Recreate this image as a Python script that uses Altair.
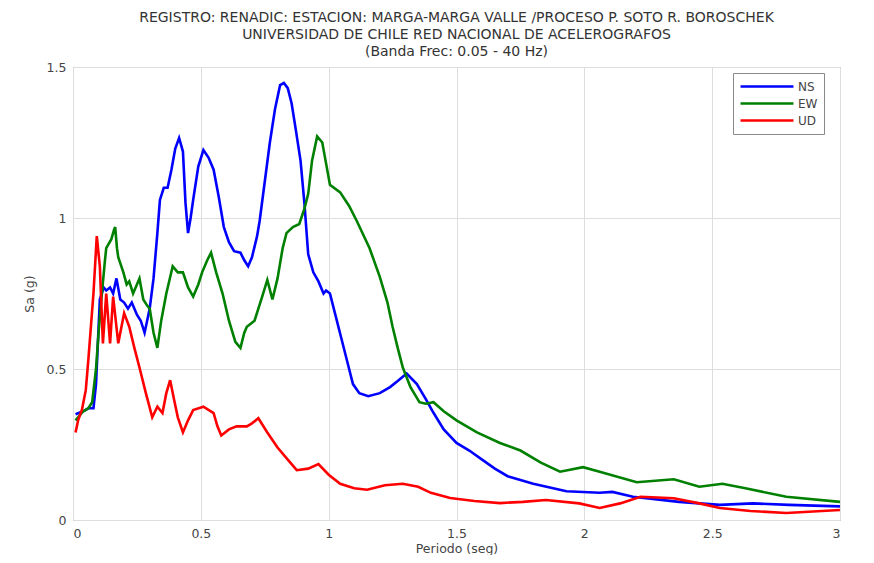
import altair as alt
import pandas as pd

# ---- data ----
ns_x = [0.01,0.04,0.06,0.08,0.09,0.105,0.12,0.13,0.145,0.157,0.17,0.185,0.2,0.215,0.23,0.25,0.265,0.28,0.29,0.30,0.315,0.33,0.34,0.355,0.37,0.385,0.40,0.415,0.43,0.44,0.45,0.46,0.47,0.49,0.51,0.53,0.55,0.57,0.59,0.61,0.63,0.655,0.67,0.685,0.70,0.72,0.73,0.75,0.77,0.79,0.81,0.825,0.84,0.855,0.87,0.89,0.905,0.92,0.94,0.96,0.98,0.99,1.005,1.02,1.05,1.08,1.095,1.12,1.155,1.20,1.24,1.27,1.305,1.345,1.38,1.41,1.45,1.50,1.55,1.60,1.65,1.70,1.80,1.93,2.06,2.11,2.19,2.37,2.53,2.66,2.8,3.0]
ns_y = [0.35,0.36,0.37,0.37,0.45,0.73,0.77,0.76,0.77,0.75,0.80,0.73,0.72,0.70,0.72,0.68,0.66,0.62,0.66,0.70,0.80,0.95,1.06,1.10,1.10,1.16,1.23,1.265,1.22,1.05,0.95,1.0,1.06,1.17,1.225,1.20,1.16,1.07,0.97,0.92,0.89,0.885,0.86,0.84,0.87,0.94,0.99,1.12,1.25,1.36,1.44,1.447,1.43,1.38,1.30,1.19,1.05,0.88,0.82,0.79,0.75,0.76,0.75,0.70,0.60,0.50,0.45,0.42,0.41,0.42,0.44,0.46,0.485,0.45,0.40,0.355,0.30,0.255,0.23,0.20,0.17,0.145,0.12,0.095,0.09,0.093,0.077,0.06,0.05,0.055,0.05,0.045]

ew_x = [0.01,0.04,0.06,0.075,0.09,0.10,0.113,0.125,0.13,0.15,0.16,0.165,0.172,0.177,0.197,0.21,0.22,0.235,0.25,0.26,0.275,0.29,0.30,0.315,0.33,0.345,0.365,0.39,0.41,0.43,0.45,0.47,0.49,0.505,0.525,0.54,0.56,0.585,0.61,0.635,0.655,0.67,0.68,0.71,0.74,0.76,0.78,0.80,0.82,0.835,0.86,0.885,0.905,0.92,0.935,0.955,0.975,0.99,1.005,1.045,1.08,1.11,1.16,1.20,1.23,1.25,1.27,1.29,1.32,1.355,1.38,1.41,1.45,1.50,1.58,1.67,1.75,1.83,1.905,1.995,2.06,2.205,2.35,2.45,2.54,2.63,2.79,3.0]
ew_y = [0.33,0.36,0.37,0.39,0.50,0.62,0.75,0.86,0.90,0.93,0.96,0.97,0.90,0.87,0.82,0.78,0.79,0.75,0.78,0.80,0.73,0.71,0.70,0.62,0.57,0.66,0.75,0.84,0.82,0.82,0.77,0.74,0.78,0.82,0.86,0.885,0.82,0.75,0.66,0.59,0.57,0.62,0.64,0.66,0.74,0.795,0.73,0.80,0.90,0.95,0.97,0.98,1.03,1.08,1.19,1.27,1.25,1.18,1.11,1.085,1.04,0.99,0.90,0.805,0.72,0.64,0.57,0.505,0.44,0.39,0.385,0.39,0.36,0.33,0.29,0.255,0.23,0.19,0.16,0.175,0.16,0.125,0.135,0.11,0.12,0.105,0.077,0.06]

ud_x = [0.01,0.02,0.035,0.05,0.06,0.08,0.093,0.105,0.117,0.13,0.145,0.157,0.177,0.20,0.22,0.24,0.26,0.285,0.31,0.33,0.35,0.365,0.38,0.395,0.41,0.43,0.45,0.47,0.51,0.55,0.565,0.58,0.61,0.64,0.68,0.70,0.725,0.76,0.80,0.84,0.875,0.92,0.96,1.0,1.045,1.10,1.15,1.22,1.29,1.35,1.40,1.475,1.57,1.67,1.76,1.85,1.98,2.06,2.14,2.22,2.35,2.45,2.53,2.65,2.79,3.0]
ud_y = [0.29,0.33,0.365,0.43,0.53,0.75,0.94,0.84,0.585,0.75,0.585,0.74,0.585,0.685,0.64,0.57,0.505,0.42,0.34,0.375,0.354,0.42,0.463,0.40,0.34,0.29,0.33,0.364,0.375,0.354,0.31,0.28,0.30,0.31,0.31,0.32,0.337,0.29,0.24,0.20,0.165,0.17,0.185,0.15,0.12,0.105,0.10,0.115,0.12,0.11,0.09,0.073,0.063,0.056,0.06,0.066,0.055,0.04,0.055,0.077,0.072,0.055,0.04,0.03,0.023,0.033]

series = ["NS", "EW", "UD"]
colors = ["#0000ff", "#008000", "#ff0000"]
x_ticks = [0, 0.5, 1, 1.5, 2, 2.5, 3]
y_ticks = [0, 0.5, 1, 1.5]
title_lines = [
    "REGISTRO: RENADIC: ESTACION: MARGA-MARGA VALLE /PROCESO P. SOTO R. BOROSCHEK",
    "UNIVERSIDAD DE CHILE RED NACIONAL DE ACELEROGRAFOS",
    "(Banda Frec: 0.05 - 40 Hz)",
]

rows = []
for name, xs, ys in [("NS", ns_x, ns_y), ("EW", ew_x, ew_y), ("UD", ud_x, ud_y)]:
    for i, (a, b) in enumerate(zip(xs, ys)):
        rows.append({"serie": name, "T": a, "Sa": b, "i": i})
df = pd.DataFrame(rows)

FONT = "DejaVu Sans"

chart = alt.Chart(df).mark_line(strokeWidth=2.6, clip=True).encode(
    x=alt.X("T:Q", scale=alt.Scale(domain=[0, 3], nice=False),
            axis=alt.Axis(values=x_ticks, title="Periodo (seg)", labelExpr="datum.value + ''",
                          grid=True, ticks=False, labelPadding=7, titlePadding=3)),
    y=alt.Y("Sa:Q", scale=alt.Scale(domain=[0, 1.5], nice=False),
            axis=alt.Axis(values=y_ticks, title="Sa (g)", labelExpr="datum.value + ''",
                          grid=True, ticks=False, labelPadding=7, titlePadding=10)),
    color=alt.Color("serie:N", scale=alt.Scale(domain=series, range=colors),
                    legend=alt.Legend(orient="none", legendX=660, legendY=6, title=None,
                                      symbolType="stroke", symbolSize=2800, symbolStrokeWidth=2.6,
                                      clipHeight=15, rowPadding=2, padding=6,
                                      strokeColor="#888", fillColor="white",
                                      labelFont=FONT, labelFontSize=12, labelColor="#444",
                                      labelOffset=3)),
    order=alt.Order("i:Q"),
    detail="serie:N",
).properties(
    width=767,
    height=453,
    autosize=alt.AutoSizeParams(type="none"),
    padding={"left": 65, "top": 59, "right": 26, "bottom": 35},
    title=alt.TitleParams(text=title_lines, fontSize=14, font=FONT, fontWeight="normal",
                          color="#333", anchor="middle", offset=2, lineHeight=17),
).configure_view(
    stroke="#999", strokeWidth=1
).configure_axis(
    labelFont=FONT, titleFont=FONT, labelFontSize=12.5, titleFontSize=12.5,
    labelColor="#444", titleColor="#444", titleFontWeight="normal",
    gridColor="#ddd", gridWidth=1, domain=False,
)

chart.save("out.html", embed_options={"renderer": "svg", "actions": False})
